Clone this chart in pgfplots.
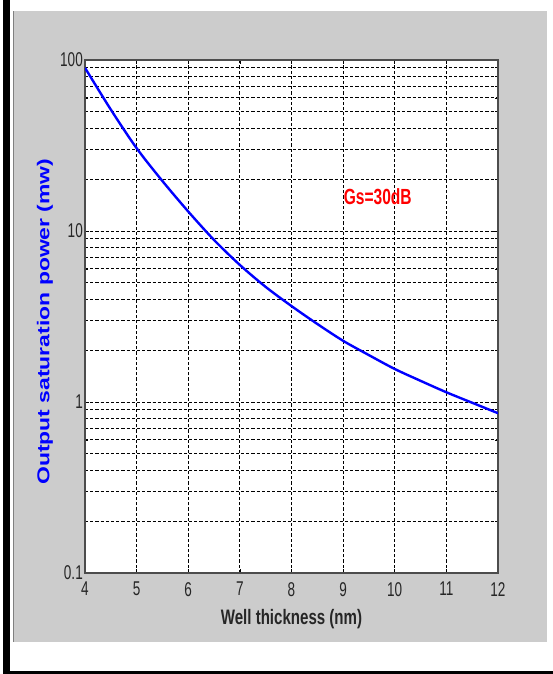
\documentclass[border=0pt]{standalone}
\usepackage{pgfplots}
\pgfplotsset{compat=1.18}
\usepackage{graphicx}
\usepackage{fontspec}
\setmainfont{Liberation Sans}
\newcommand{\sq}[1]{\scalebox{0.68}[1]{#1}}
\begin{document}
\begin{tikzpicture}
\fill[white] (0bp,0bp) rectangle (553bp,674bp);
\fill[black] (3.3bp,0bp) rectangle (10bp,674bp);
\fill[black] (3.3bp,0bp) rectangle (553bp,3bp);
\fill[black!20] (13bp,32bp) rectangle (547bp,663bp);
\draw[black!50, line width=1bp] (13.5bp,32bp) -- (13.5bp,663bp);
\begin{axis}[
  at={(85bp,101bp)}, anchor=south west,
  width=413bp, height=513bp, scale only axis,
  ymode=log,
  xmin=4, xmax=12, ymin=0.1, ymax=100,
  axis background/.style={fill=white},
  axis line style={draw=black!70, line width=1.3bp},
  xtick={4,5,6,7,8,9,10,11,12},
  xticklabels={\sq{4},\sq{5},\sq{6},\sq{7},\sq{8},\sq{9},\sq{10},\sq{11},\sq{12}},
  ytick={0.1,1,10,100},
  yticklabels={\sq{0.1},\sq{1},\sq{10},\sq{100}},
  tick pos=both, tick align=inside,
  major tick length=4bp, minor tick length=2.5bp,
  tick style={black, line width=0.7bp},
  xticklabel style={font=\fontsize{20}{20}\selectfont, text=black!85, inner sep=0pt, yshift=-9bp},
  yticklabel style={font=\fontsize{20}{20}\selectfont, text=black!85, inner sep=0pt, xshift=-2bp},
  grid=both,
  major grid style={black, line width=1bp, dash pattern=on 3.2bp off 2bp},
  minor grid style={black, line width=1bp, dash pattern=on 3.2bp off 2bp},
  xlabel={\scalebox{0.72}[1]{\fontsize{21}{21}\selectfont\bfseries Well thickness (nm)}},
  xlabel style={at={(axis description cs:0.5,-0.09)}, anchor=center, text=black!85},
  ylabel={\scalebox{1}[0.75]{\fontsize{23}{23}\selectfont\bfseries Output saturation power (mw)}},
  ylabel style={at={(axis description cs:-0.097,0.49)}, anchor=center, text=blue},
]
\addplot[blue, line width=2.4bp, smooth] coordinates {
(4,90) (4.5,51.3) (5,30.5) (5.5,19.6) (6,13.0) (6.5,8.86) (7,6.33) (7.5,4.71)
(8,3.64) (8.5,2.86) (9,2.28) (9.5,1.88) (10,1.56) (10.5,1.33) (11,1.14)
(11.5,0.99) (12,0.86)
};
\node[text=red, font=\fontsize{22}{22}\selectfont\bfseries, inner sep=0pt] at (axis cs:9.67,15.9) {\scalebox{0.71}[1]{Gs=30dB}};
\end{axis}
\end{tikzpicture}
\end{document}
